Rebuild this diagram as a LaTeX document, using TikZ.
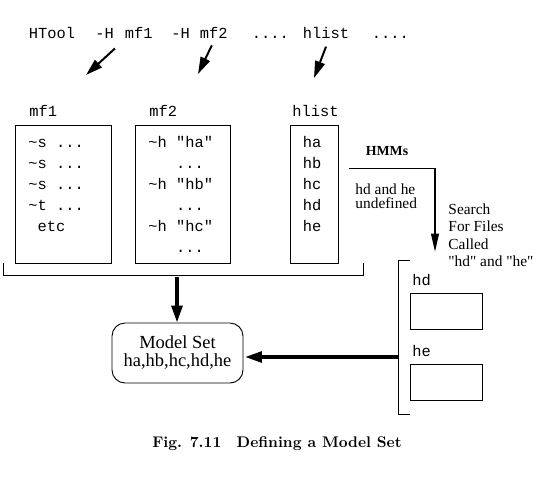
\documentclass[tikz,border=0pt]{standalone}
\usepackage{fontspec}
\setmonofont{Liberation Mono}
\newfontfamily\timesf{Liberation Serif}
\usetikzlibrary{arrows.meta}
\tikzstyle{fileBox} = [draw, line width=0.6pt, inner sep=0pt, minimum height=89.7pt]
\tikzstyle{ttText} = [inner sep=0pt, font=\ttfamily\fontsize{10}{12}\selectfont]
\tikzstyle{rmText} = [inner sep=0pt, align=left, font=\timesf\fontsize{10}{11.4}\selectfont]
\tikzstyle{modelBox} = [
  draw,
  line width=0.6pt,
  rounded corners=8.5pt,
  minimum width=85.15pt,
  minimum height=39pt,
  align=center,
  font=\timesf\fontsize{12}{11.7}\selectfont]
\tikzstyle{cmdArrow} = [-{Triangle[length=11pt,width=6.5pt]}, line width=1.3pt]
\tikzstyle{setArrow} = [-{Triangle[length=11pt,width=7pt]}, line width=2.2pt]
\tikzstyle{flowArrow} = [-{Triangle[length=12pt,width=5pt]}, line width=1.3pt]
\newcommand{\ttilde}{\textasciitilde}
\newcommand{\ttdots}{...}

\begin{document}
\begin{tikzpicture}[x=0.65pt, y=-0.65pt, line width=0.6pt]
  \useasboundingbox (0,0) rectangle (547,478);
  % command line
  \node[ttText, anchor=base west] (cmd) at (28.5,38) {HTool};
  \node[ttText, anchor=base west] (flagA) at (95,38) {-H};
  \node[ttText, anchor=base west] (fileA) at (124.5,38) {mf1};
  \node[ttText, anchor=base west] (flagB) at (171,38) {-H};
  \node[ttText, anchor=base west] (fileB) at (199.5,38) {mf2};
  \node[ttText, anchor=base west] (dotsA) at (251.5,38) {\ttdots.};
  \node[ttText, anchor=base west] (listCmd) at (302.5,38) {hlist};
  \node[ttText, anchor=base west] (dotsB) at (371.5,38) {\ttdots.};
  \coordinate (mfOneTip) at (86,75);
  \coordinate (mfTwoTip) at (198,74);
  \coordinate (hlistTip) at (314,78);
  \draw[cmdArrow] ([shift={(-6.2pt,-6.5pt)}]fileA.south west) -- (mfOneTip);
  \draw[cmdArrow] ([shift={(-1.3pt,-4.5pt)}]fileB.south) -- (mfTwoTip);
  \draw[cmdArrow] ([yshift=-5.2pt]listCmd.south) -- (hlistTip);
  % the three files
  \node[ttText, anchor=base west] (mfOneLabel) at (29,116) {mf1};
  \node[ttText, anchor=base west] (mfTwoLabel) at (149,116) {mf2};
  \node[ttText, anchor=base west] (hlistLabel) at (292,116) {hlist};
  \node[fileBox, minimum width=62.4pt] (mfOne) at (63,194) {};
  \node[fileBox, minimum width=61.75pt] (mfTwo) at (182.5,194) {};
  \node[fileBox, minimum width=31.2pt] (hlist) at (314,194) {};
  \foreach \row [count=\i] in {{\ttilde s \ttdots}, {\ttilde s \ttdots},
      {\ttilde s \ttdots}, {\ttilde t \ttdots}, {\hspace*{0.6em}etc}}
    \node[ttText, anchor=base west] (mfOne-\i) at (28,{126+21*\i}) {\row};
  \foreach \row [count=\i] in {{\ttilde h "ha"}, {\hspace*{1.8em}\ttdots},
      {\ttilde h "hb"}, {\hspace*{1.8em}\ttdots},
      {\ttilde h "hc"}, {\hspace*{1.8em}\ttdots}}
    \node[ttText, anchor=base west] (mfTwo-\i) at (148,{126+21*\i}) {\row};
  \foreach \row [count=\i] in {ha,hb,hc,hd,he}
    \node[ttText, anchor=base west] (hlist-\i) at (302.5,{126+21*\i}) {\row};
  \draw (3,263) -- (3,275) -- (363,275) -- (363,263);
  % undefined models
  \node[rmText, anchor=base, font=\timesf\bfseries\fontsize{9}{11}\selectfont]
    (hmmLabel) at (387,155) {HMMs};
  \node[rmText, anchor=north west, font=\timesf\fontsize{10}{9.2}\selectfont]
    (undefNote) at (355,183) {hd and he\\undefined};
  \node[rmText, anchor=north west] (searchNote) at (448,203)
    {Search\\For Files\\Called\\"hd" and "he"};
  \coordinate (hmmStart) at (349,168);
  \coordinate (hmmCorner) at (435,168);
  \coordinate (searchTip) at (435,252);
  \draw (hmmStart) -- (hmmCorner);
  \draw[flowArrow] (hmmCorner) -- (searchTip);
  % files found
  \draw (410,260) -- (398,260) -- (398,414) -- (410,414);
  \node[ttText, anchor=base west] (hdLabel) at (412,285) {hd};
  \node[ttText, anchor=base west] (heLabel) at (412,356) {he};
  \node[fileBox, minimum width=46.8pt, minimum height=23.4pt] (hdFile) at (446,311) {};
  \node[fileBox, minimum width=46.8pt, minimum height=23.4pt] (heFile) at (446,382) {};
  % model set
  \node[modelBox] (model) at (177.5,353) {Model Set\\ha,hb,hc,hd,he};
  \coordinate (setTop) at (177,277);
  \coordinate (foundMid) at (398,357);
  \draw[setArrow] (setTop) -- (model.north -| setTop);
  \draw[setArrow] (foundMid) -- ([xshift=1pt]foundMid -| model.east);
  \node[anchor=base, font=\bfseries\fontsize{10}{12}\selectfont] (caption)
    at (277,447) {Fig. 7.11\quad Defining a Model Set};
\end{tikzpicture}
\end{document}
